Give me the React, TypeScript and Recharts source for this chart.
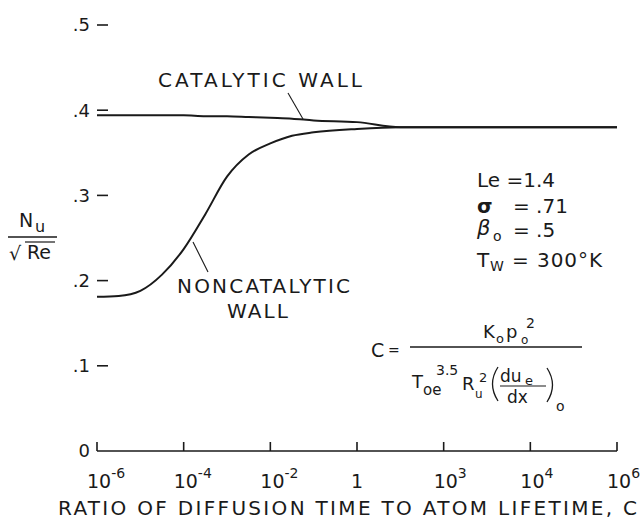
import { LineChart, Line, XAxis, YAxis, Customized } from 'recharts';

// log10(C) positions along the x axis (ticks are evenly spaced)
const LOG_C = [-6, -5.5, -5, -4.5, -4, -3.5, -3, -2.5, -2, -1.5, -1, 0, 1, 2, 3, 4, 5, 6];
const CATALYTIC = [0.394, 0.394, 0.394, 0.394, 0.394, 0.393, 0.393, 0.392, 0.391, 0.39, 0.388, 0.386, 0.38, 0.38, 0.38, 0.38, 0.38, 0.38];
const NONCATALYTIC = [0.181, 0.182, 0.188, 0.207, 0.237, 0.278, 0.322, 0.348, 0.361, 0.37, 0.374, 0.378, 0.38, 0.38, 0.38, 0.38, 0.38, 0.38];

const X_TICKS = [-6, -4, -2, 0, 2, 4, 6];
const X_TICK_BASE = ['10', '10', '10', '1', '10', '10', '10'];
const X_TICK_EXP = ['-6', '-4', '-2', '', '3', '4', '6'];

const Y_TICKS = [0, 0.1, 0.2, 0.3, 0.4, 0.5];
const Y_TICK_LABELS = ['0', '.1', '.2', '.3', '.4', '.5'];

const data = LOG_C.map((x, i) => ({ x, cat: CATALYTIC[i], noncat: NONCATALYTIC[i] }));

const FONT = '"DejaVu Sans", sans-serif';
const INK = '#1a1a1a';

function XTick(props: any) {
  const { x, y, payload } = props;
  const i = X_TICKS.findIndex((t) => Math.abs(t - payload.value) < 1e-6);
  const base = X_TICK_BASE[i];
  const exp = X_TICK_EXP[i];
  return (
    <g>
      <line x1={x} y1={y} x2={x} y2={y - 9} stroke={INK} strokeWidth={1.6} />
      {exp ? (
        <text x={x - 10} y={y + 37} fontSize={19} fontFamily={FONT} fill={INK}>
          {base}
          <tspan dy={-10} fontSize={14}>{exp}</tspan>
        </text>
      ) : (
        <text x={x} y={y + 37} textAnchor="middle" fontSize={19} fontFamily={FONT} fill={INK}>
          {base}
        </text>
      )}
    </g>
  );
}

function YTick(props: any) {
  const { x, y, payload } = props;
  const i = Y_TICKS.findIndex((t) => Math.abs(t - payload.value) < 1e-6);
  return (
    <g>
      {payload.value > 0 && <line x1={x} y1={y} x2={x + 11} y2={y} stroke={INK} strokeWidth={1.6} />}
      <text x={x - 7} y={y} dy="0.36em" textAnchor="end" fontSize={18} fontFamily={FONT} fill={INK}>
        {Y_TICK_LABELS[i]}
      </text>
    </g>
  );
}

function Annotations() {
  return (
    <g fontFamily={FONT} fill={INK}>
      {/* y axis label */}
      <text x={19} y={227} fontSize={19}>N</text>
      <text x={35} y={232} fontSize={16}>u</text>
      <line x1={8} y1={237} x2={57} y2={237} stroke={INK} strokeWidth={1.5} />
      <text x={9} y={260} fontSize={19}>√</text>
      <line x1={25} y1={242} x2={55} y2={242} stroke={INK} strokeWidth={1.2} />
      <text x={27} y={259} fontSize={19}>Re</text>

      {/* curve labels */}
      <text x={158} y={87} fontSize={20} textLength={204} lengthAdjust="spacing">CATALYTIC WALL</text>
      <line x1={288} y1={93} x2={303} y2={119} stroke={INK} strokeWidth={1.1} />
      <text x={177} y={293} fontSize={20} textLength={173} lengthAdjust="spacing">NONCATALYTIC</text>
      <text x={227} y={318} fontSize={20} textLength={61} lengthAdjust="spacing">WALL</text>
      <line x1={193} y1={242} x2={208} y2={272} stroke={INK} strokeWidth={1.1} />

      {/* parameters */}
      <text x={477} y={187} fontSize={20} textLength={78} lengthAdjust="spacing">Le =1.4</text>
      <text x={477} y={213} fontSize={20} fontWeight="bold">σ</text>
      <text x={513} y={213} fontSize={20}>= .71</text>
      <text x={477} y={235} fontSize={21} fontStyle="italic">β</text>
      <text x={493} y={241} fontSize={14}>o</text>
      <text x={513} y={237} fontSize={20}>= .5</text>
      <text x={477} y={267} fontSize={20}>T</text>
      <text x={490} y={271} fontSize={14}>W</text>
      <text x={512} y={267} fontSize={20} textLength={90} lengthAdjust="spacing">= 300°K</text>

      {/* definition of C */}
      <text x={371} y={357} fontSize={19}>C</text>
      <text x={388} y={355} fontSize={14}>=</text>
      <line x1={410} y1={347} x2={582} y2={347} stroke={INK} strokeWidth={1.5} />
      <text x={483} y={338} fontSize={18}>K</text>
      <text x={496} y={343} fontSize={13}>o</text>
      <text x={506} y={338} fontSize={18}>p</text>
      <text x={521} y={344} fontSize={12}>o</text>
      <text x={526} y={328} fontSize={14}>2</text>

      <text x={412} y={388} fontSize={18}>T</text>
      <text x={423} y={395} fontSize={15}>oe</text>
      <text x={436} y={375} fontSize={14}>3.5</text>
      <text x={462} y={390} fontSize={18}>R</text>
      <text x={475} y={398} fontSize={12}>u</text>
      <text x={479} y={382} fontSize={13}>2</text>
      <path d="M 498 367 Q 487 384 498 401" stroke={INK} strokeWidth={1.3} fill="none" />
      <text x={500} y={382} fontSize={17}>du</text>
      <text x={525} y={385} fontSize={13}>e</text>
      <line x1={500} y1={386} x2={546} y2={386} stroke={INK} strokeWidth={1.2} />
      <text x={507} y={403} fontSize={17}>dx</text>
      <path d="M 547 368 Q 558 385 547 402" stroke={INK} strokeWidth={1.3} fill="none" />
      <text x={556} y={411} fontSize={14}>o</text>

      {/* x axis title */}
      <text x={58} y={515} fontSize={20} textLength={579} lengthAdjust="spacing">
        RATIO OF DIFFUSION TIME TO ATOM LIFETIME, C
      </text>
    </g>
  );
}

export default function App() {
  return (
    <div style={{ position: 'absolute', left: 0, top: 0, background: '#fff' }}>
      <LineChart width={640} height={520} data={data} margin={{ top: 25, right: 23, bottom: 0, left: 0 }}>
        <XAxis
          type="number"
          dataKey="x"
          domain={[-6, 6]}
          ticks={X_TICKS}
          height={69}
          tickSize={0}
          tickMargin={0}
          tickLine={false}
          axisLine={{ stroke: INK, strokeWidth: 1.6 }}
          tick={<XTick />}
        />
        <YAxis
          type="number"
          domain={[0, 0.5]}
          ticks={Y_TICKS}
          width={97}
          tickSize={0}
          tickMargin={0}
          tickLine={false}
          axisLine={false}
          tick={<YTick />}
        />
        <Line type="monotone" dataKey="cat" stroke={INK} strokeWidth={2} dot={false} isAnimationActive={false} />
        <Line type="monotone" dataKey="noncat" stroke={INK} strokeWidth={2} dot={false} isAnimationActive={false} />
        <Customized component={Annotations} />
      </LineChart>
    </div>
  );
}
